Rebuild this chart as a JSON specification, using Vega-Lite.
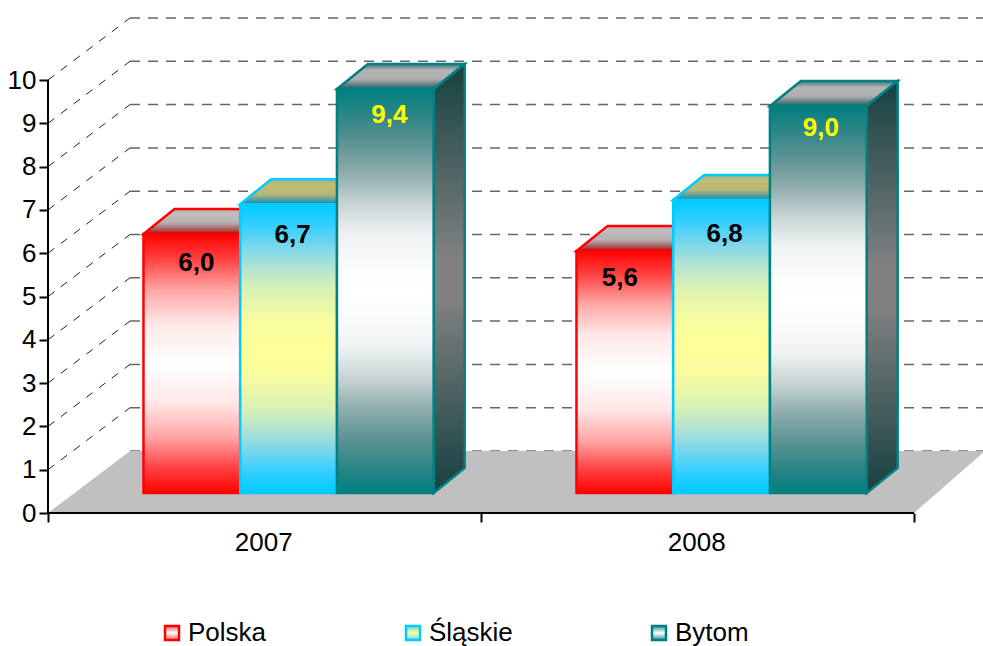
{
"$schema":"https://vega.github.io/schema/vega-lite/v6.json",
"width":935,"height":513,
"autosize":{"type":"none"},
"padding":{"left":48,"top":0,"right":0,"bottom":133},
"background":"white",
"config":{"font":"Liberation Sans","view":{"stroke":null},"axis":{"title":null}},
"resolve":{"axis":{"x":"independent","y":"independent"}},
"layer":[
{"data":{"values":[{"tick":0},{"tick":1},{"tick":2},{"tick":3},{"tick":4},{"tick":5},{"tick":6},{"tick":7},{"tick":8},{"tick":9},{"tick":10}]},
 "transform":[{"calculate":"datum.tick+1.432","as":"back"}],
 "mark":{"type":"rule","stroke":"#666666","strokeWidth":1.5,"strokeDash":[10,8]},
  "encoding":{"x":{"datum":0.1894,"type":"quantitative","scale":{"domain":[0,2.1594],"nice":false,"zero":false},"axis":null},"x2":{"datum":2.16},"y":{"field":"back","type":"quantitative","scale":{"domain":[0,11.848],"nice":false,"zero":false},"axis":null}}},
{"data":{"values":[{"tick":0},{"tick":1},{"tick":2},{"tick":3},{"tick":4},{"tick":5},{"tick":6},{"tick":7},{"tick":8},{"tick":9},{"tick":10}]},
 "transform":[{"calculate":"datum.tick+1.432","as":"back"},{"filter":"datum.tick>0"}],
  "mark":{"type":"rule","stroke":"#222222","strokeWidth":1,"strokeDash":[8,8]},
  "encoding":{"x":{"datum":0,"type":"quantitative","axis":null},"x2":{"datum":0.1894},"y":{"field":"tick","type":"quantitative","axis":{"values":[0,1,2,3,4,5,6,7,8,9,10],"domain":false,"grid":false,"ticks":true,"tickSize":9,"tickWidth":2,"tickColor":"black","labelFontSize":26,"labelColor":"black","labelPadding":3}},"y2":{"field":"back"}}},
{"data":{"values":[{"depth":0},{"depth":1}]},
 "transform":[{"calculate":"datum.depth*1.432","as":"fy"},{"calculate":"datum.depth*0.1894","as":"fx"},{"calculate":"2+datum.depth*0.164","as":"fx2"}],
 "mark":{"type":"area","orient":"horizontal","fill":"#c0c0c0"},
 "encoding":{"y":{"field":"fy","type":"quantitative","axis":null},"x":{"field":"fx","type":"quantitative","axis":null},"x2":{"field":"fx2"}}},
{"data":{"values":[
 {"year":2007,"series":"Polska","value":6.0},
 {"year":2007,"series":"Śląskie","value":6.7},
 {"year":2007,"series":"Bytom","value":9.4},
 {"year":2008,"series":"Polska","value":5.6},
 {"year":2008,"series":"Śląskie","value":6.8},
 {"year":2008,"series":"Bytom","value":9.0}]},
 "transform":[
  {"calculate":"indexof(['Polska','Śląskie','Bytom'],datum.series)","as":"s"},
  {"calculate":"datum.year-2007+0.2205+0.2234*datum.s","as":"x0"},
  {"calculate":"datum.x0+0.2234","as":"x1"},
  {"calculate":"0.533+0.985*datum.value","as":"ytop"},
  {"calculate":"0.462","as":"ybase"},
  {"calculate":"replace(format(datum.value,'.1f'),'.',',')","as":"label"},
  {"calculate":"(datum.x0+datum.x1)/2+({'2007Polska':4.5,'2007Śląskie':4,'2007Bytom':4,'2008Polska':-5,'2008Śląskie':3,'2008Bytom':2.5})[datum.year+datum.series]/433","as":"lx"},
  {"calculate":"datum.ytop-({'2007Polska':29,'2007Śląskie':31,'2007Bytom':26,'2008Polska':27,'2008Śląskie':34,'2008Bytom':22})[datum.year+datum.series]/43.3","as":"ly"},
  {"calculate":"[0,1]","as":"d"}
 ],
 "layer":[
 {"transform":[{"filter":"datum.series==='Polska'"},{"flatten":["d"]},{"calculate":"datum.ytop+datum.d*0.577","as":"ty"},{"calculate":"datum.x0+datum.d*0.0716","as":"tx"},{"calculate":"datum.x1+datum.d*0.0716","as":"tx2"}],
  "mark":{"type":"area","orient":"horizontal","stroke":"#ff0000","strokeWidth":2.5,"fill":{"gradient":"linear","x1":0,"y1":0,"x2":0,"y2":1,"stops":[{"offset":0,"color":"#c8a0a0"},{"offset":0.15,"color":"#c0c0c0"},{"offset":0.55,"color":"#b8b0b0"},{"offset":0.85,"color":"#a85050"},{"offset":1,"color":"#b00000"}]}},
  "encoding":{"detail":{"field":"year"},"y":{"field":"ty","type":"quantitative","axis":null},"x":{"field":"tx","type":"quantitative","axis":null},"x2":{"field":"tx2"}}},
 {"transform":[{"filter":"datum.series==='Śląskie'"},{"flatten":["d"]},{"calculate":"datum.ytop+datum.d*0.577","as":"ty"},{"calculate":"datum.x0+datum.d*0.0716","as":"tx"},{"calculate":"datum.x1+datum.d*0.0716","as":"tx2"}],
  "mark":{"type":"area","orient":"horizontal","stroke":"#00ccff","strokeWidth":2.5,"fill":{"gradient":"linear","x1":0,"y1":0,"x2":0,"y2":1,"stops":[{"offset":0,"color":"#90b898"},{"offset":0.2,"color":"#c0bc70"},{"offset":0.6,"color":"#b8b878"},{"offset":1,"color":"#1088b8"}]}},
  "encoding":{"detail":{"field":"year"},"y":{"field":"ty","type":"quantitative","axis":null},"x":{"field":"tx","type":"quantitative","axis":null},"x2":{"field":"tx2"}}},
 {"transform":[{"filter":"datum.series==='Bytom'"},{"flatten":["d"]},{"calculate":"datum.ytop+datum.d*0.577","as":"ty"},{"calculate":"datum.x0+datum.d*0.0716","as":"tx"},{"calculate":"datum.x1+datum.d*0.0716","as":"tx2"}],
  "mark":{"type":"area","orient":"horizontal","stroke":"#008080","strokeWidth":2.5,"fill":{"gradient":"linear","x1":0,"y1":0,"x2":0,"y2":1,"stops":[{"offset":0,"color":"#407878"},{"offset":0.25,"color":"#b4b4b4"},{"offset":0.6,"color":"#b0b0b0"},{"offset":1,"color":"#206060"}]}},
  "encoding":{"detail":{"field":"year"},"y":{"field":"ty","type":"quantitative","axis":null},"x":{"field":"tx","type":"quantitative","axis":null},"x2":{"field":"tx2"}}},
 {"transform":[{"filter":"datum.series==='Bytom'"},{"flatten":["d"]},{"calculate":"datum.x1+datum.d*0.0716","as":"sx"},{"calculate":"datum.ybase+datum.d*0.577","as":"sy"},{"calculate":"datum.ytop+datum.d*0.577","as":"sy2"}],
  "mark":{"type":"area","stroke":"#008080","strokeWidth":2.5,"fill":{"gradient":"linear","x1":0,"y1":0,"x2":0,"y2":1,"stops":[{"offset":0,"color":"#164040"},{"offset":0.45,"color":"#808080"},{"offset":0.55,"color":"#808080"},{"offset":1,"color":"#164040"}]}},
  "encoding":{"detail":{"field":"year"},"x":{"field":"sx","type":"quantitative","axis":null},"y":{"field":"sy","type":"quantitative","axis":null},"y2":{"field":"sy2"}}},
 {"transform":[{"filter":"datum.series==='Polska'"}],
  "mark":{"type":"rect","strokeWidth":2.5,"fill":{"gradient":"linear","x1":0,"y1":0,"x2":0,"y2":1,"stops":[{"offset":0,"color":"#ff0000"},{"offset":0.1,"color":"#ff4444"},{"offset":0.22,"color":"#ffa8a8"},{"offset":0.35,"color":"#ffe8e8"},{"offset":0.5,"color":"#ffffff"},{"offset":0.65,"color":"#ffe8e8"},{"offset":0.78,"color":"#ffa8a8"},{"offset":0.9,"color":"#ff4444"},{"offset":1,"color":"#ff0000"}]}},
  "encoding":{
   "x":{"field":"x0","type":"quantitative","axis":null},"x2":{"field":"x1"},
   "y":{"field":"ybase","type":"quantitative","axis":null},"y2":{"field":"ytop"},
   "stroke":{"field":"series","type":"nominal","scale":{"domain":["Polska","Śląskie","Bytom"],"range":["#ff0000","#00ccff","#008080"]},
    "legend":{"orient":"none","legendX":111,"legendY":620,"direction":"horizontal","columns":3,"columnPadding":133,"gridAlign":"none","title":null,"symbolType":"square","symbolSize":196,"symbolStrokeWidth":2.5,"symbolOpacity":1,"labelFontSize":26,"labelColor":"black","labelOffset":3,
     "encoding":{"symbols":{"fill":{"value":{"expr":"datum.value==='Polska'?{gradient:'linear',x1:0,y1:0,x2:0,y2:1,stops:[{offset:0,color:'#ff6060'},{offset:0.5,color:'#ffffff'},{offset:1,color:'#ff6060'}]}:datum.value==='Bytom'?{gradient:'linear',x1:0,y1:0,x2:0,y2:1,stops:[{offset:0,color:'#308f8f'},{offset:0.5,color:'#ffffff'},{offset:1,color:'#308f8f'}]}:{gradient:'linear',x1:0,y1:0,x2:0,y2:1,stops:[{offset:0,color:'#60d8f0'},{offset:0.5,color:'#ffff99'},{offset:1,color:'#60d8f0'}]}"}}}}}}
  }},
 {"transform":[{"filter":"datum.series==='Śląskie'"}],
  "mark":{"type":"rect","strokeWidth":2.5,"fill":{"gradient":"linear","x1":0,"y1":0,"x2":0,"y2":1,"stops":[{"offset":0,"color":"#00ccff"},{"offset":0.07,"color":"#30ceff"},{"offset":0.155,"color":"#80d8ea"},{"offset":0.225,"color":"#b5e4d0"},{"offset":0.3,"color":"#dcf2b4"},{"offset":0.41,"color":"#f8fc9e"},{"offset":0.5,"color":"#ffff99"},{"offset":0.59,"color":"#f8fc9e"},{"offset":0.7,"color":"#dcf2b4"},{"offset":0.775,"color":"#b5e4d0"},{"offset":0.845,"color":"#80d8ea"},{"offset":0.93,"color":"#30ceff"},{"offset":1,"color":"#00ccff"}]}},
  "encoding":{
   "x":{"field":"x0","type":"quantitative","axis":null},"x2":{"field":"x1"},
   "y":{"field":"ybase","type":"quantitative","axis":null},"y2":{"field":"ytop"},
   "stroke":{"field":"series","type":"nominal"}
  }},
 {"transform":[{"filter":"datum.series==='Bytom'"}],
  "mark":{"type":"rect","strokeWidth":2.5,"fill":{"gradient":"linear","x1":0,"y1":0,"x2":0,"y2":1,"stops":[{"offset":0,"color":"#008080"},{"offset":0.06,"color":"#2a8585"},{"offset":0.13,"color":"#5a9292"},{"offset":0.21,"color":"#90adad"},{"offset":0.28,"color":"#c5d2d2"},{"offset":0.36,"color":"#eff2f3"},{"offset":0.42,"color":"#f8fafa"},{"offset":0.5,"color":"#ffffff"},{"offset":0.58,"color":"#f8fafa"},{"offset":0.64,"color":"#eff2f3"},{"offset":0.72,"color":"#c5d2d2"},{"offset":0.79,"color":"#90adad"},{"offset":0.87,"color":"#5a9292"},{"offset":0.94,"color":"#2a8585"},{"offset":1,"color":"#008080"}]}},
  "encoding":{
   "x":{"field":"x0","type":"quantitative","axis":null},"x2":{"field":"x1"},
   "y":{"field":"ybase","type":"quantitative","axis":null},"y2":{"field":"ytop"},
   "stroke":{"field":"series","type":"nominal"}
  }},
 {"mark":{"type":"text","fontSize":26,"fontWeight":"bold","baseline":"middle","align":"center"},
  "encoding":{"x":{"field":"lx","type":"quantitative","axis":null},"y":{"field":"ly","type":"quantitative","axis":null},"text":{"field":"label"},
   "color":{"condition":{"test":"datum.series==='Bytom'","value":"#ffff00"},"value":"#000000"}}}
 ]},
{"data":{"values":[{"edge":"front"}]},
 "mark":{"type":"rule","stroke":"black","strokeWidth":2},
  "encoding":{"x":{"datum":0,"type":"quantitative","axis":{"orient":"bottom","values":[0,1,2],"domain":false,"grid":false,"labels":false,"ticks":true,"tickSize":9,"tickWidth":2,"tickColor":"black"}},"x2":{"datum":2},"y":{"datum":0,"type":"quantitative","axis":null}}},
{"data":{"values":[{"edge":"side"}]},
 "mark":{"type":"rule","stroke":"black","strokeWidth":2},
  "encoding":{"x":{"datum":0,"type":"quantitative","axis":{"orient":"bottom","values":[0.497,1.497],"domain":false,"grid":false,"ticks":false,"labelFontSize":26,"labelColor":"black","labelPadding":16,"labelExpr":"datum.value<1?'2007':'2008'"}},"y":{"datum":0,"type":"quantitative","axis":null},"y2":{"datum":10}}}
]
}
